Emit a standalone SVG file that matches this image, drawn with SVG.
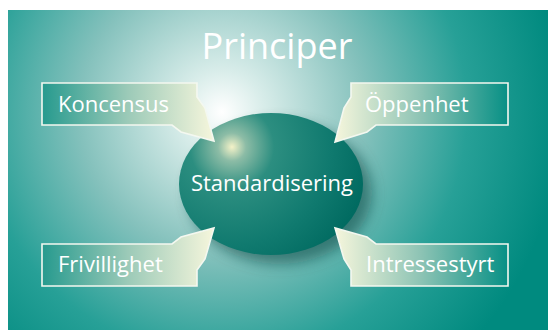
<svg xmlns="http://www.w3.org/2000/svg" width="548" height="330" viewBox="0 0 548 330">
<defs>
<radialGradient id="bg" gradientUnits="userSpaceOnUse" cx="222" cy="112" r="340" fx="222" fy="112">
<stop offset="0" stop-color="#ffffff"/>
<stop offset="0.12" stop-color="#d9edea"/>
<stop offset="0.42" stop-color="#84c1bc"/>
<stop offset="0.72" stop-color="#27a097"/>
<stop offset="1" stop-color="#008a7f"/>
</radialGradient>
<linearGradient id="cl" x1="0" y1="0" x2="1" y2="0">
<stop offset="0" stop-color="#269a8e"/>
<stop offset="0.5" stop-color="#9ccab8"/>
<stop offset="1" stop-color="#f6f6dc"/>
</linearGradient>
<linearGradient id="cr" x1="1" y1="0" x2="0" y2="0">
<stop offset="0" stop-color="#079085"/>
<stop offset="0.5" stop-color="#8cc3b4"/>
<stop offset="1" stop-color="#f6f6dc"/>
</linearGradient>
<radialGradient id="ell" gradientUnits="userSpaceOnUse" cx="232" cy="147" r="140" fx="232" fy="147">
<stop offset="0" stop-color="#f4f2c8"/>
<stop offset="0.1" stop-color="#8cbca6"/>
<stop offset="0.3" stop-color="#2c8e80"/>
<stop offset="0.7" stop-color="#107a6f"/>
<stop offset="1" stop-color="#006a60"/>
</radialGradient>
<filter id="blur" x="-30%" y="-30%" width="160%" height="160%">
<feGaussianBlur stdDeviation="7"/>
</filter>
<style>
.lbl{font-family:"Open Sans","Noto Sans",sans-serif;fill:#ffffff;font-size:22px}
.box{stroke:#f4f8f0;stroke-width:1.6;stroke-linejoin:miter}
</style>
</defs>
<rect x="8" y="10" width="540" height="320" fill="url(#bg)"/>
<text x="277" y="59" text-anchor="middle" font-family="Open Sans, Noto Sans, sans-serif" font-size="36" fill="#ffffff">Principer</text>
<g id="center">
<ellipse cx="280" cy="193" rx="92" ry="71" fill="#0a4e4a" opacity="0.6" filter="url(#blur)"/>
<ellipse cx="271" cy="184" rx="92" ry="71" fill="url(#ell)"/>
<text class="lbl" x="272" y="191" text-anchor="middle" font-size="22.8">Standardisering</text>
</g>
<g id="connectors"></g>
<g id="koncensus">
<path class="box" fill="url(#cl)" d="M42,83 H197 V97 L205,108 L214,141 L181,132 L172,125 H42 Z"/>
<text class="lbl" x="58" y="112">Koncensus</text>
</g>
<g id="oppenhet">
<path class="box" fill="url(#cr)" d="M508,83 H351 V97 L344,108 L335,142 L367,132 L376,125 H508 Z"/>
<text class="lbl" x="365" y="112">Öppenhet</text>
</g>
<g id="frivillighet">
<path class="box" fill="url(#cl)" d="M42,286 H197 V270 L205,259 L214,228 L181,237 L172,244 H42 Z"/>
<text class="lbl" x="58" y="272">Frivillighet</text>
</g>
<g id="intressestyrt">
<path class="box" fill="url(#cr)" d="M508,286 H351 V270 L344,259 L335,228 L367,237 L376,244 H508 Z"/>
<text class="lbl" x="366" y="272">Intressestyrt</text>
</g>
</svg>
